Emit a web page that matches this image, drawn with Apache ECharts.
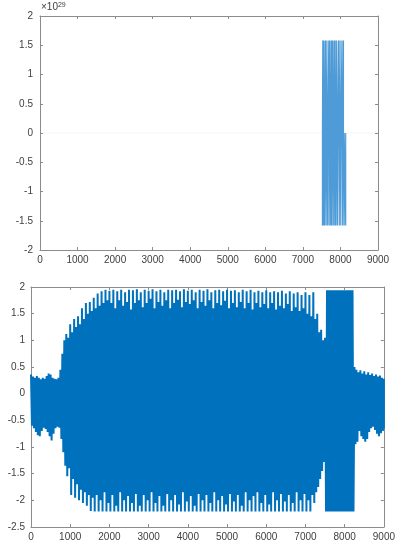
<!DOCTYPE html>
<html>
<head>
<meta charset="utf-8">
<script src="https://cdn.jsdelivr.net/npm/echarts@6/dist/echarts.min.js"></script>
<style>
  html, body { margin: 0; padding: 0; background: #fff; }
  #main { width: 398px; height: 545px; }
</style>
</head>
<body>
<div id="main"></div>
<script>
// 上图：只在 7500~8150 之间有 ±1.58e29 的尖峰
var spikeX = [7520, 7530, 7550, 7560, 7580, 7600, 7620, 7640, 7660, 7690, 7700, 7720, 7740, 7760, 7770, 7790,
              7810, 7830, 7850, 7860, 7880, 7900, 7920, 7950, 7970, 7990, 8010, 8040, 8060, 8080, 8100, 8140];
var spikeY = [-1.58e29, 1.58e29, -1.58e29, 1.58e29, -1.58e29, 1.58e29, -1.58e29, 1.58e29, -1.58e29, 1.58e29,
              -1.58e29, 1.58e29, -1.58e29, 1.58e29, -1.58e29, 1.58e29, -1.58e29, 1.58e29, -1.58e29, 1.58e29,
              -1.58e29, 1.58e29, -1.58e29, 1.58e29, -1.58e29, 1.58e29, -1.58e29, 1.58e29, -1.58e29, 1.58e29,
              -1.58e29, -1.58e29];

// 下图：每50个采样点读一次上下包络 (0..9000)
var sampleStep = 50;
var sigHi = [
  0.36,0.32,0.30,0.33,0.30,0.27,0.30,0.28,0.33,0.38,
  0.36,0.30,0.28,0.27,0.30,0.45,0.75,1.00,1.12,1.05,
  1.30,1.15,1.40,1.25,1.45,1.30,1.60,1.40,1.70,1.50,
  1.72,1.55,1.80,1.60,1.88,1.65,1.92,1.70,1.95,1.75,
  1.93,1.70,1.95,1.60,1.92,1.75,1.95,1.65,1.90,1.72,
  1.95,1.58,1.94,1.70,1.96,1.75,1.90,1.62,1.95,1.70,
  1.93,1.78,1.96,1.60,1.92,1.72,1.95,1.65,1.90,1.75,
  1.95,1.60,1.94,1.70,1.95,1.76,1.92,1.62,1.96,1.72,
  1.93,1.68,1.95,1.75,1.90,1.60,1.95,1.72,1.93,1.65,
  1.96,1.75,1.90,1.60,1.94,1.70,1.95,1.66,1.92,1.74,
  1.95,1.60,1.93,1.70,1.94,1.62,1.90,1.72,1.95,1.60,
  1.92,1.70,1.95,1.58,1.90,1.70,1.93,1.62,1.90,1.68,
  1.94,1.60,1.90,1.70,1.92,1.58,1.90,1.65,1.93,1.60,
  1.88,1.68,1.92,1.55,1.88,1.62,1.90,1.55,1.85,1.60,
  1.90,1.50,1.85,1.45,1.90,1.40,1.50,1.15,1.20,1.00,
  1.05,1.94,1.94,1.94,1.94,1.94,1.94,1.94,1.94,1.94,
  1.94,1.94,1.94,1.94,1.94,0.50,0.45,0.40,0.44,0.38,
  0.42,0.36,0.40,0.35,0.38,0.33,0.36,0.32,0.34,0.30,
  0.28
];
var sigLo = [
  -0.60,-0.65,-0.72,-0.78,-0.80,-0.70,-0.64,-0.66,-0.72,-0.80,
  -0.88,-0.75,-0.65,-0.62,-0.64,-0.85,-1.10,-1.35,-1.55,-1.40,
  -1.90,-1.60,-1.95,-1.70,-2.00,-1.80,-2.05,-1.85,-2.10,-1.90,
  -2.20,-1.95,-2.21,-1.90,-2.21,-2.00,-2.21,-1.85,-2.21,-2.05,
  -2.21,-1.90,-2.21,-2.10,-2.21,-1.85,-2.21,-2.00,-2.21,-1.92,
  -2.21,-2.05,-2.21,-1.88,-2.21,-2.10,-2.21,-1.90,-2.21,-2.00,
  -2.21,-1.85,-2.21,-2.05,-2.21,-1.92,-2.21,-2.10,-2.21,-1.88,
  -2.21,-2.00,-2.21,-1.90,-2.21,-2.08,-2.21,-1.85,-2.21,-2.02,
  -2.21,-1.92,-2.21,-2.10,-2.21,-1.88,-2.21,-2.00,-2.21,-1.90,
  -2.21,-2.05,-2.21,-1.85,-2.21,-2.00,-2.21,-1.92,-2.21,-2.08,
  -2.21,-1.88,-2.21,-2.02,-2.21,-1.90,-2.21,-2.10,-2.21,-1.85,
  -2.21,-2.00,-2.21,-1.92,-2.21,-1.85,-2.21,-2.05,-2.21,-1.90,
  -2.21,-2.08,-2.21,-1.85,-2.21,-2.00,-2.21,-1.88,-2.21,-2.02,
  -2.21,-1.90,-2.21,-2.05,-2.21,-1.85,-2.21,-2.00,-2.21,-1.88,
  -2.21,-2.00,-2.21,-1.90,-2.05,-1.85,-1.75,-1.60,-1.45,-1.28,
  -2.21,-2.21,-2.21,-2.21,-2.21,-2.21,-2.21,-2.21,-2.21,-2.21,
  -2.21,-2.21,-2.21,-2.21,-2.21,-0.95,-0.90,-0.70,-0.80,-0.85,
  -0.90,-0.85,-0.72,-0.65,-0.62,-0.68,-0.75,-0.80,-0.74,-0.70,
  -0.66
];

/*拼出折线数据*/
var topData = [];
for (var i = 0; i < spikeX.length; i++) {
  topData.push([spikeX[i], 0]);
  topData.push([spikeX[i], spikeY[i]]);
  topData.push([spikeX[i], 0]);
}

var botData = [];
for (var j = 0; j < sigHi.length; j++) {
  var x = j * sampleStep;
  botData.push([x, sigHi[j]]);
  botData.push([Math.min(x + sampleStep / 2, 9000), sigLo[j]]);
}

var axisCol = '#8c8c8c';
var labelCol = '#404040';
var font = 'Liberation Sans, Arial, sans-serif';

function xAxisPair(gi) {
  return [
    { gridIndex: gi, type: 'value', min: 0, max: 9000, interval: 1000, position: 'bottom',
      axisLine: { onZero: false, lineStyle: { color: axisCol } },
      axisTick: { inside: true, length: 3, lineStyle: { color: axisCol } },
      axisLabel: { color: labelCol, fontSize: 10, fontFamily: font, margin: 5,
                   formatter: function (v) { return String(v); } },
      splitLine: { show: false } },
    { gridIndex: gi, type: 'value', min: 0, max: 9000, interval: 1000, position: 'top',
      axisLine: { onZero: false, lineStyle: { color: axisCol } },
      axisTick: { inside: true, length: 3, lineStyle: { color: axisCol } },
      axisLabel: { show: false }, splitLine: { show: false } }
  ];
}
function yAxisPair(gi, mn, mx, step, fmt, margin) {
  return [
    { gridIndex: gi, type: 'value', min: mn, max: mx, interval: step, position: 'left',
      axisLine: { show: true, onZero: false, lineStyle: { color: axisCol } },
      axisTick: { show: true, inside: true, length: 3, lineStyle: { color: axisCol } },
      axisLabel: { color: labelCol, fontSize: 10, fontFamily: font, margin: margin, formatter: fmt },
      splitLine: { show: false } },
    { gridIndex: gi, type: 'value', min: mn, max: mx, interval: step, position: 'right',
      axisLine: { show: true, onZero: false, lineStyle: { color: axisCol } },
      axisTick: { show: true, inside: true, length: 3, lineStyle: { color: axisCol } },
      axisLabel: { show: false }, splitLine: { show: false } }
  ];
}

var myChart = echarts.init(document.getElementById('main'));
var option = {
  animation: false,
  backgroundColor: '#fff',
  grid: [
    { left: 40, top: 16, width: 338, height: 234 },
    { left: 31, top: 287, width: 357, height: 240 }
  ],
  xAxis: xAxisPair(0).concat(xAxisPair(1)),
  yAxis: yAxisPair(0, -2e29, 2e29, 0.5e29, function (v) { return String(+(v / 1e29).toFixed(1)); }, 7)
    .concat(yAxisPair(1, -2.5, 2, 0.5, function (v) { return String(v); }, 6)),
  graphic: [{
    type: 'text', left: 41, top: 2,
    style: {
      text: '{a|×10}{b|29}', fill: labelCol, fontFamily: font,
      rich: { a: { fontSize: 10, fontFamily: font, fill: labelCol, verticalAlign: 'bottom' },
              b: { fontSize: 7, fontFamily: font, fill: labelCol, verticalAlign: 'top' } }
    }
  }],
  series: [
    { type: 'line', xAxisIndex: 0, yAxisIndex: 0, data: [[0, 0], [9000, 0]], showSymbol: false,
      lineStyle: { color: '#0072BD', width: 1, opacity: 0.06 }, silent: true },
    { type: 'line', xAxisIndex: 0, yAxisIndex: 0, data: topData, showSymbol: false,
      lineStyle: { color: '#2f8ad0', width: 1.2, opacity: 0.85 }, silent: true },
    { type: 'line', xAxisIndex: 2, yAxisIndex: 2, data: botData, showSymbol: false, sampling: null,
      lineStyle: { color: '#0072BD', width: 2 }, silent: true }
  ]
};
myChart.setOption(option);
</script>
</body>
</html>
